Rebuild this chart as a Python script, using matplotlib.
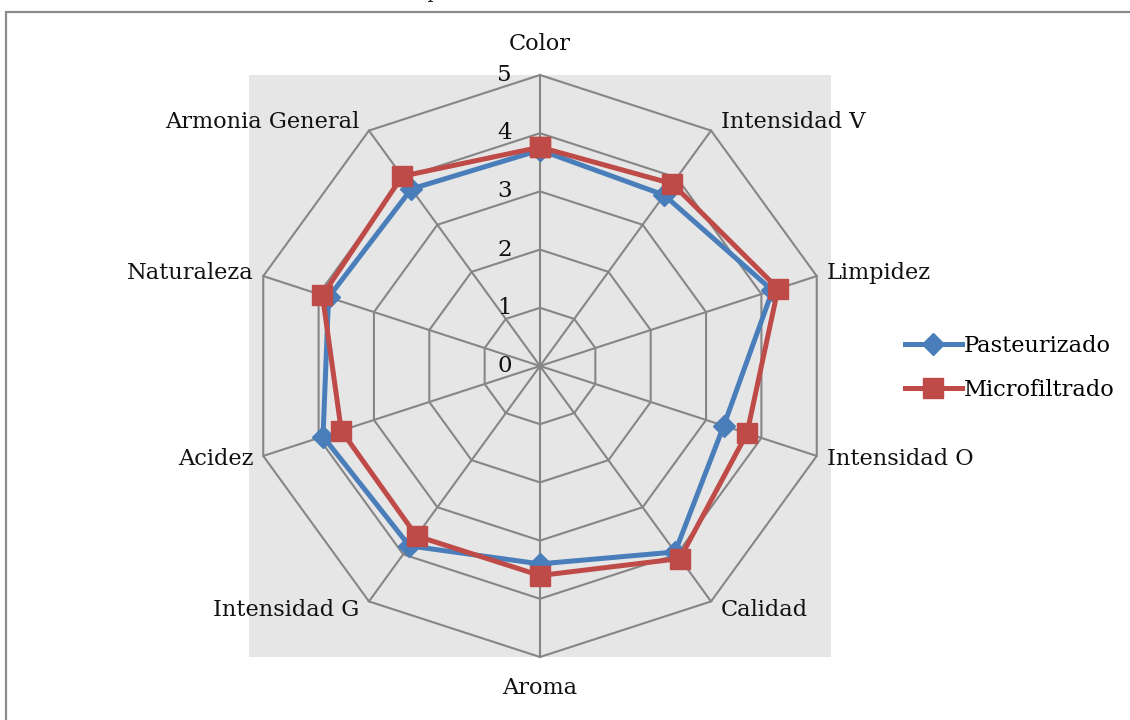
import numpy as np
import matplotlib.pyplot as plt
from matplotlib.patches import Rectangle
from matplotlib.lines import Line2D

plt.rcParams['font.family'] = ['DejaVu Serif']

categorias = ['Color', 'Intensidad V', 'Limpidez', 'Intensidad O', 'Calidad',
              'Aroma', 'Intensidad G', 'Acidez', 'Naturaleza', 'Armonia General']
pasteurizado = [3.71, 3.63, 4.20, 3.32, 3.95, 3.40, 3.82, 3.92, 3.82, 3.76]
microfiltrado = [3.76, 3.87, 4.30, 3.74, 4.09, 3.60, 3.61, 3.59, 3.93, 4.03]
niveles = [0, 1, 2, 3, 4, 5]
titulo = 'Escala de valoración sensorial de 0 a 5 puntos'

W, H = 1130, 720
fig = plt.figure(figsize=(W / 100, H / 100), dpi=100)

# marco del grafico (cortado a la derecha y abajo)
fig.patches.append(Rectangle((6 / W, -0.05), 1.1, 1 - 12 / H + 0.05,
                             transform=fig.transFigure, fill=False,
                             edgecolor='#8c8c8c', lw=1.6))
# titulo que queda cortado por el borde superior
fig.text(36 / W, 1 + 1.5 / H, titulo, fontsize=14, va='baseline', ha='left',
         color='#222222')

# eje polar centrado en (540, 366) con radio 291 px
ax = fig.add_axes([249 / W, 1 - 657 / H, 582 / W, 582 / H], projection='polar')
ax.set_theta_offset(np.pi / 2)
ax.set_theta_direction(-1)
ax.set_ylim(0, 5)
ax.set_frame_on(False)
ax.patch.set_alpha(0)
ax.grid(False)
ax.set_xticks([])
ax.set_yticks([])
ax.add_patch(Rectangle((0, 0), 1, 1, transform=ax.transAxes, facecolor='#e6e6e6',
                       edgecolor='none', zorder=-5, clip_on=False))

n = len(categorias)
ang = np.arange(n) * 2 * np.pi / n
ang_c = np.append(ang, ang[0])

gris = '#868686'
for r in niveles[1:]:
    ax.plot(ang_c, [r] * (n + 1), color=gris, lw=1.5, zorder=1, clip_on=False)
for a in ang:
    ax.plot([a, a], [0, niveles[-1]], color=gris, lw=1.5, zorder=1, clip_on=False)

for r in niveles:
    ax.annotate(str(r), xy=(0, r), xytext=(-28, 0), textcoords='offset pixels',
                ha='right', va='center', fontsize=16.5, color='#111111')

for a, nom in zip(ang, categorias):
    s, c = np.sin(a), np.cos(a)
    if abs(s) < 0.1:
        ha = 'center'
        off = (0, 31 * np.sign(c))
    else:
        ha = 'left' if s > 0 else 'right'
        off = (10 * np.sign(s), 11 * c)
    ax.annotate(nom, xy=(a, 5), xytext=off, textcoords='offset pixels',
                ha=ha, va='center', fontsize=16.2, color='#111111')

azul, rojo = '#4a7ebb', '#be4b48'
ax.plot(ang_c, pasteurizado + pasteurizado[:1], color=azul, lw=3.6, marker='D',
        ms=11, zorder=3, clip_on=False)
ax.plot(ang_c, microfiltrado + microfiltrado[:1], color=rojo, lw=3.6, marker='s',
        ms=15, zorder=4, clip_on=False)

handles = [Line2D([], [], color=azul, lw=3.6, marker='D', ms=11),
           Line2D([], [], color=rojo, lw=3.6, marker='s', ms=15)]
fig.legend(handles, ['Pasteurizado', 'Microfiltrado'], loc='center left',
           bbox_to_anchor=(885 / W, 1 - 368 / H), frameon=False, fontsize=16.2,
           handlelength=2.5, handletextpad=0.1, labelspacing=0.95)

fig.savefig('out.png', dpi=100)
